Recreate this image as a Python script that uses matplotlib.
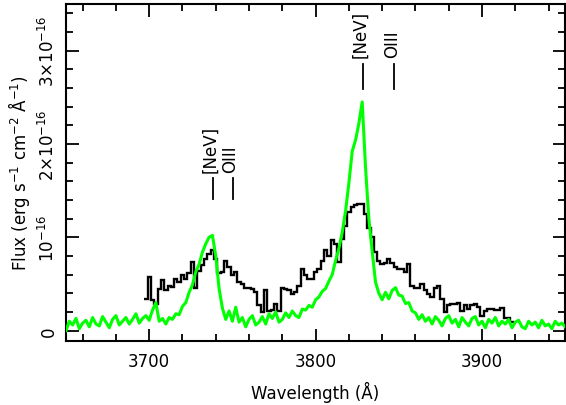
import numpy as np
import matplotlib
matplotlib.use('Agg')
import matplotlib.pyplot as plt
from matplotlib.ticker import MultipleLocator

plt.rcParams['font.family'] = ['DejaVu Sans']
plt.rcParams['mathtext.fontset'] = 'dejavusans'

# green spectrum, 2 A sampling from 3650 A, flux in units of 1e-16
green_start = 3650
green_step = 2
green_flux = [
    0.00, 0.10, 0.06, 0.13, 0.02, 0.08, 0.11, 0.04, 0.14, 0.07,
    0.05, 0.15, 0.09, 0.03, 0.12, 0.16, 0.06, 0.10, 0.14, 0.07,
    0.12, 0.18, 0.08, 0.13, 0.16, 0.11, 0.22, 0.30, 0.10, 0.13,
    0.07, 0.14, 0.12, 0.18, 0.17, 0.26, 0.30, 0.41, 0.49, 0.63,
    0.71, 0.84, 0.93, 1.00, 1.02, 0.80, 0.45, 0.24, 0.12, 0.21,
    0.10, 0.25, 0.09, 0.14, 0.04, 0.12, 0.16, 0.06, 0.09, 0.15,
    0.07, 0.18, 0.13, 0.20, 0.09, 0.12, 0.19, 0.14, 0.21, 0.16,
    0.14, 0.23, 0.22, 0.27, 0.25, 0.33, 0.36, 0.42, 0.45, 0.53,
    0.60, 0.75, 0.88, 1.05, 1.28, 1.58, 1.92, 2.04, 2.22, 2.45,
    1.75, 1.20, 0.85, 0.52, 0.40, 0.33, 0.41, 0.34, 0.43, 0.46,
    0.38, 0.37, 0.29, 0.30, 0.21, 0.19, 0.12, 0.17, 0.10, 0.14,
    0.07, 0.15, 0.11, 0.05, 0.13, 0.16, 0.08, 0.12, 0.04, 0.14,
    0.09, 0.05, 0.13, 0.15, 0.06, 0.10, 0.03, 0.12, 0.08, 0.14,
    0.05, 0.10, 0.07, 0.12, 0.03, 0.09, 0.11, 0.04, 0.02, 0.10,
    0.06, 0.09, 0.03, 0.11, 0.05, 0.07, 0.02, 0.10, 0.06, 0.08,
    0.04,
]

# black histogram, 2 A bins from 3697 A
black_start = 3697
black_step = 2
black_flux = [
    0.34, 0.57, 0.33, 0.28, 0.45, 0.54, 0.43, 0.48, 0.47, 0.55,
    0.52, 0.60, 0.55, 0.62, 0.73, 0.46, 0.64, 0.70, 0.77, 0.82,
    0.86, 0.77, 0.62, 0.63, 0.75, 0.68, 0.60, 0.63, 0.52, 0.50,
    0.46, 0.46, 0.45, 0.41, 0.27, 0.20, 0.43, 0.21, 0.22, 0.28,
    0.21, 0.46, 0.45, 0.44, 0.39, 0.41, 0.48, 0.66, 0.60, 0.55,
    0.55, 0.63, 0.66, 0.75, 0.86, 0.80, 0.97, 0.93, 0.73, 0.98,
    1.12, 1.27, 1.32, 1.35, 1.36, 1.36, 1.25, 1.10, 1.00, 0.84,
    0.75, 0.71, 0.72, 0.77, 0.72, 0.68, 0.66, 0.66, 0.63, 0.71,
    0.48, 0.46, 0.46, 0.50, 0.43, 0.39, 0.36, 0.46, 0.48, 0.34,
    0.20, 0.27, 0.29, 0.29, 0.30, 0.21, 0.27, 0.23, 0.27, 0.28,
    0.25, 0.16, 0.21, 0.23, 0.23, 0.22, 0.22, 0.24, 0.13, 0.13,
    0.09,
]

# line labels: wavelength, name, tick bottom/top (1e-16)
lines_wl = [3738.4, 3750.4, 3828.4, 3847.4]
lines_name = ['[NeV]', 'OIII', '[NeV]', 'OIII']
lines_lo = [1.41, 1.41, 2.59, 2.59]
lines_hi = [1.63, 1.63, 2.86, 2.86]

scale = 1e-16

fig = plt.figure(figsize=(5.66, 4.06), dpi=100)
ax = fig.add_axes([0.1166, 0.158, 0.882, 0.83])

gwl = green_start + green_step * np.arange(len(green_flux))
bedges = black_start + black_step * np.arange(len(black_flux) + 1)

ax.stairs(np.array(black_flux) * scale, bedges, baseline=None,
          color='black', lw=1.7, zorder=2)
ax.plot(gwl, np.array(green_flux) * scale, color='#00ff00', lw=2.2, zorder=3)

for wl, name, lo, hi in zip(lines_wl, lines_name, lines_lo, lines_hi):
    ax.plot([wl, wl], [lo * scale, hi * scale], color='black', lw=1.3)
    ax.text(wl - 1.5, (hi + 0.07) * scale, name, rotation=90,
            ha='center', va='bottom', fontsize=12)

ax.set_xlim(3650, 3950)
ax.set_ylim(-0.11e-16, 3.5e-16)

ax.xaxis.set_major_locator(MultipleLocator(100))
ax.xaxis.set_minor_locator(MultipleLocator(20))
ax.set_yticks([0, 1e-16, 2e-16, 3e-16])
ax.set_yticklabels(['0', r'$10^{-16}$', r'$2{\times}10^{-16}$', r'$3{\times}10^{-16}$'],
                   rotation=90, va='center')
ax.yaxis.set_minor_locator(MultipleLocator(0.2e-16))

ax.tick_params(which='both', direction='in', top=True, right=True,
               width=1.3, labelsize=12)
ax.tick_params(which='major', length=9)
ax.tick_params(which='minor', length=5)
ax.tick_params(axis='x', pad=8)
ax.tick_params(axis='y', pad=6)
for s in ax.spines.values():
    s.set_linewidth(1.5)

ax.set_xlabel('Wavelength (Å)', fontsize=12, labelpad=8)
ax.set_ylabel(r'Flux (erg s$^{-1}$ cm$^{-2}$ Å$^{-1}$)', fontsize=12, labelpad=4)

fig.savefig('out.png', dpi=100)
